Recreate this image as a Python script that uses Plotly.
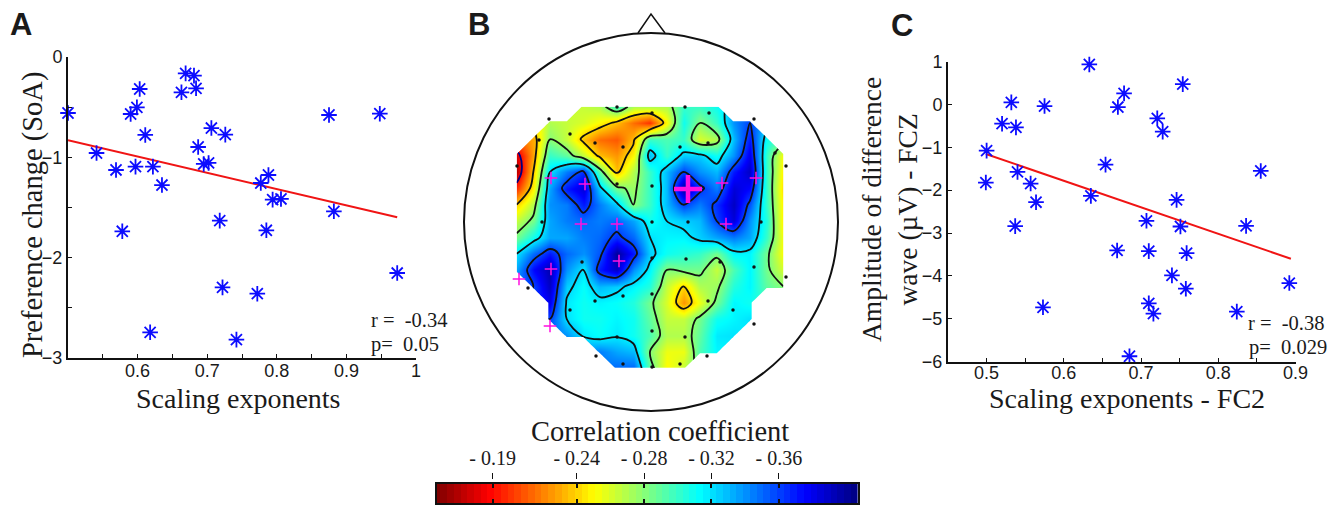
import plotly.graph_objects as go

# Panel A
a_x = [.500,.541,.569,.578,.590,.599,.603,.597,.611,.618,.622,.635,.663,.669,.681,.684,.687,.695,.702,.706,.718,.722,.726,.742,.772,.777,.785,.788,.794,.806,.875,.882,.948,.973]
a_y = [-.558,-.957,-1.126,-1.737,-.568,-.502,-.319,-1.093,-.777,-2.744,-1.093,-1.276,-.352,-.163,-.186,-.312,-.897,-1.066,-1.056,-.708,-1.631,-2.296,-.774,-2.817,-2.359,-1.256,-1.727,-1.176,-1.422,-1.415,-.578,-1.538,-.565,-2.153]
a_fit_x = [.5,.973]
a_fit_y = [-.83,-1.598]
# Panel C
c_x = [.633,.754,.678,.532,.575,.670,.520,.538,.721,.728,.500,.654,.855,.540,.499,.557,.564,.635,.746,.707,.537,.751,.836,.669,.710,.759,.740,.758,.892,.573,.710,.716,.824,.685]
c_y = [.931,.473,.256,.047,-.039,-.062,-.450,-.535,-.326,-.636,-1.078,-1.404,-1.552,-1.575,-1.823,-1.846,-2.281,-2.133,-2.226,-2.715,-2.839,-2.847,-2.832,-3.406,-3.421,-3.468,-3.988,-4.298,-4.166,-4.732,-4.639,-4.880,-4.833,-5.873]
c_fit_x = [.499,.894]
c_fit_y = [-1.156,-3.6]

# Panel B: correlation magnitude on the scalp, read on a regular grid (page pixels)
grid_x = [516.7,533.3,550,566.7,583.3,600,616.7,633.3,650,666.7,683.3,700,716.7,733.3,750,766.7,783.3]
grid_y = [106.7,123,139.3,155.7,172,188.3,204.7,221,237.3,253.7,270,286.3,302.7,319,335.3,351.7,368]
_ = None
grid_z = [
 [_,_,_,_,.265,.27,.30,.27,.27,.27,.30,.30,.31,_,_,_,_],
 [_,_,.27,.265,.26,.25,.235,.215,.20,.25,.31,.28,.30,.34,.36,_,_],
 [_,.23,.28,.265,.235,.215,.21,.235,.30,.295,.30,.26,.27,.33,.37,.31,_],
 [.18,.23,.30,.29,.265,.235,.225,.25,.33,.30,.325,.325,.31,.34,.38,.30,.25],
 [.17,.24,.32,.345,.365,.29,.235,.27,.30,.33,.36,.34,.33,.37,.39,.30,.245],
 [.20,.25,.335,.37,.385,.325,.285,.275,.30,.33,.40,.365,.345,.385,.375,.30,.24],
 [.24,.27,.34,.345,.37,.345,.325,.28,.30,.33,.36,.345,.365,.39,.355,.30,.245],
 [.265,.285,.335,.345,.35,.345,.35,.335,.31,.32,.325,.33,.36,.385,.34,.305,.245],
 [.285,.31,.335,.335,.345,.35,.365,.35,.32,.315,.315,.325,.335,.345,.335,.30,.25],
 [.32,.35,.37,.35,.34,.355,.40,.37,.325,.31,.305,.30,.285,.315,.315,.285,.25],
 [.335,.375,.395,.34,.318,.37,.39,.34,.315,.28,.285,.285,.265,.295,.315,.285,.26],
 [_,.36,.39,.325,.312,.33,.325,.315,.305,.265,.24,.27,.275,.305,.315,.29,.28],
 [_,_,.38,.318,.31,.315,.312,.305,.285,.26,.225,.255,.285,.315,.31,_,_],
 [_,_,.36,.32,.31,.31,.315,.31,.29,.265,.265,.285,.31,.315,.32,_,_],
 [_,_,_,.34,.318,.312,.318,.31,.295,.27,.27,.29,.318,.32,_,_,_],
 [_,_,_,_,_,.345,.335,.33,.28,.255,.255,.295,.315,_,_,_,_],
 [_,_,_,_,_,_,.35,.35,.29,.25,.265,_,_,_,_,_,_],
]
dots_x = [617,652,685,709,549,754,570,539,595,623,680,708,775,517,786,617,652,542,652,688,761,652,686,720,754,582,528,786,595,623,652,708,733,570,652,754,617,685,596,707,623,652,680]
dots_y = [107,113,107,113,119,119,134,140,143,147,147,143,153,166,166,184,186,222,222,222,222,258,259,262,267,262,288,277,301,296,294,301,310,310,331,324,337,337,356,356,364,367,364]
plus_x = [551,585,722,756,581,617,726,619,551,519,550]
plus_y = [178,184,183,178,224,224,224,261,269,279,326]
big_plus_x = [688]
big_plus_y = [189]

# Colour bar
bar_ticks = [.19,.24,.28,.32,.36]
bar_labels = ["- 0.19","- 0.24","- 0.28","- 0.32","- 0.36"]
bar_min, bar_max = .157, .407
bar_levels = [.157,.161,.165,.169,.173,.177,.181,.185,.189,.193,.197,.201,.205,.209,.213,.217,.221,.225,.229,.233,.237,.241,.245,.249,.253,.257,.261,.265,.269,.273,.277,.281,.285,.289,.293,.297,.301,.305,.309,.313,.317,.321,.325,.329,.333,.337,.341,.345,.349,.353,.357,.361,.365,.369,.373,.377,.381,.385,.389,.393,.397,.401,.405]
jet_r = [[0,"#7f0000"],[.125,"#ff0000"],[.375,"#ffff00"],[.625,"#00ffff"],[.875,"#0000ff"],[1,"#00007f"]]

SERIF = "Liberation Serif"
SANS = "Liberation Sans"
BLUE = "#0c0cff"
INK = "#1a1a1a"
W, H = 1343, 505
dx = lambda a, b: [a / W, b / W]
dy = lambda t, b: [1 - b / H, 1 - t / H]

fig = go.Figure()

fig.add_trace(go.Contour(
    x=grid_x, y=grid_y, z=grid_z, xaxis="x3", yaxis="y3", showscale=False,
    colorscale=jet_r, zmin=bar_min, zmax=bar_max, connectgaps=False,
    contours=dict(coloring="heatmap", start=.24, end=.36, size=.04, showlabels=False),
    line=dict(color="#111111", width=1.8), hoverinfo="skip",
))
fig.add_trace(go.Contour(
    x=grid_x, y=grid_y, z=grid_z, xaxis="x3", yaxis="y3", showscale=False,
    colorscale=jet_r, zmin=bar_min, zmax=bar_max, connectgaps=False,
    contours=dict(coloring="lines", start=.19, end=.19, size=.04),
    line=dict(color="#111111", width=1.8), hoverinfo="skip",
))
fig.add_trace(go.Scatter(x=dots_x, y=dots_y, xaxis="x3", yaxis="y3", mode="markers",
                         marker=dict(size=3.5, color="#111111"), hoverinfo="skip"))
fig.add_trace(go.Scatter(x=plus_x, y=plus_y, xaxis="x3", yaxis="y3", mode="markers",
                         marker=dict(symbol="cross-thin", size=9, color="#ff10e0", line=dict(color="#ff10e0", width=1.5)), hoverinfo="skip"))
fig.add_trace(go.Scatter(x=big_plus_x, y=big_plus_y, xaxis="x3", yaxis="y3", mode="markers",
                         marker=dict(symbol="cross-thin", size=20, color="#ff10e0", line=dict(color="#ff10e0", width=4.5)), hoverinfo="skip"))

# colour bar
fig.add_trace(go.Heatmap(x=bar_levels, y=[0], z=[bar_levels], xaxis="x4", yaxis="y4", showscale=False,
                         colorscale=jet_r, zmin=bar_min, zmax=bar_max, hoverinfo="skip"))
fig.add_trace(go.Scatter(x=bar_ticks, y=[0]*5, xaxis="x5", yaxis="y5", mode="none", hoverinfo="skip"))

def panel(x, y, fx, fy, xa, ya):
    fig.add_trace(go.Scatter(x=fx, y=fy, xaxis=xa, yaxis=ya, mode="lines",
                             line=dict(color="#f01414", width=2), hoverinfo="skip"))
    fig.add_trace(go.Scatter(x=x, y=y, xaxis=xa, yaxis=ya, mode="markers", cliponaxis=False,
                             marker=dict(symbol="asterisk-open", size=13, color=BLUE, line=dict(color=BLUE, width=1.8)),
                             hoverinfo="skip"))
panel(a_x, a_y, a_fit_x, a_fit_y, "x", "y")
panel(c_x, c_y, c_fit_x, c_fit_y, "x2", "y2")

axis = dict(showgrid=False, zeroline=False, showline=True, linecolor="#111111", linewidth=2,
            ticks="inside", ticklen=4, tickwidth=1, tickcolor="#111111",
            tickfont=dict(family=SANS, size=18, color=INK), tickmode="array", automargin=False)
annos = [
    dict(x=21, y=24, text="<b>A</b>", size=31, fam=SANS),
    dict(x=479, y=24, text="<b>B</b>", size=31, fam=SANS),
    dict(x=902, y=25, text="<b>C</b>", size=31, fam=SANS),
    dict(x=238, y=398, text="Scaling exponents", size=28, fam=SERIF),
    dict(x=1127, y=398, text="Scaling exponents - FC2", size=28, fam=SERIF),
    dict(x=660, y=431, text="Correlation coefficient", size=28.5, fam=SERIF),
    dict(x=33, y=215, text="Preference change (SoA)", size=28.5, fam=SERIF, rot=-90),
    dict(x=889, y=210, text="Amplitude of difference<br>wave (µV) - FCZ", size=27.5, fam=SERIF, rot=-90),
    dict(x=409, y=320, text="r =  -0.34", size=20.5, fam=SERIF),
    dict(x=405, y=344, text="p=  0.05", size=20.5, fam=SERIF),
    dict(x=1286, y=323, text="r =  -0.38", size=20.5, fam=SERIF),
    dict(x=1288, y=347, text="p=  0.029", size=20.5, fam=SERIF),
]
fig.update_layout(
    template="none",
    width=W, height=H, margin=dict(l=0, r=0, t=0, b=0, autoexpand=False), paper_bgcolor="white", plot_bgcolor="rgba(0,0,0,0)",
    showlegend=False,
    xaxis=dict(axis, domain=dx(68, 416), range=[.5, 1], anchor="y", ticklabelstandoff=-5,
               tickvals=[.5,.55,.6,.65,.7,.75,.8,.85,.9,.95,1],
               ticktext=["","","0.6","","0.7","","0.8","","0.9","","1"]),
    yaxis=dict(axis, domain=dy(57, 358), range=[-3, 0], anchor="x",
               tickvals=[-3,-2.5,-2,-1.5,-1,-.5,0],
               ticktext=["−3","","−2","","−1","","0"]),
    xaxis2=dict(axis, domain=dx(948, 1295.5), range=[.45, .9], anchor="y2", ticklabelstandoff=-6,
                tickvals=[.5,.55,.6,.65,.7,.75,.8,.85,.9],
                ticktext=["0.5","","0.6","","0.7","","0.8","","0.9"]),
    yaxis2=dict(axis, domain=dy(61.5, 361.7), range=[-6, 1], anchor="x2",
                tickvals=[-6,-5,-4,-3,-2,-1,0,1],
                ticktext=["−6","−5","−4","−3","−2","−1","0","1"]),
    xaxis3=dict(domain=[0, 1], range=[0, W], visible=False, anchor="y3", automargin=False),
    yaxis3=dict(domain=[0, 1], range=[H, 0], visible=False, anchor="x3", automargin=False),
    xaxis4=dict(domain=dx(437, 858), range=[bar_min, bar_max], anchor="y4", side="bottom", automargin=False,
                showgrid=False, zeroline=False, showline=True, mirror="ticks", linecolor="#111111", linewidth=2,
                ticks="inside", ticklen=4, tickwidth=2, tickcolor="#111111", tickmode="array",
                tickvals=bar_ticks, showticklabels=False),
    yaxis4=dict(domain=dy(484, 503), range=[-.5, .5], anchor="x4", showticklabels=False, ticks="", automargin=False,
                showgrid=False, zeroline=False, showline=True, mirror=True, linecolor="#111111", linewidth=2),
    xaxis5=dict(domain=dx(437, 858), range=[bar_min, bar_max], anchor="y5", side="top", automargin=False,
                showgrid=False, zeroline=False, showline=False,
                ticks="outside", ticklen=6, tickwidth=1, tickcolor="#111111", tickmode="array",
                tickvals=bar_ticks, ticktext=bar_labels, tickangle=0,
                tickfont=dict(family=SERIF, size=20, color=INK)),
    yaxis5=dict(domain=dy(480, 481), range=[0, 1], anchor="x5", visible=False, automargin=False),
    shapes=[
        dict(type="circle", xref="x3", yref="y3", x0=464, x1=838, y0=33, y1=411,
             line=dict(color="#111111", width=2), layer="below"),
        dict(type="path", xref="x3", yref="y3", path="M 638 33 L 651 14 L 665 33",
             line=dict(color="#111111", width=1.5)),
    ],
    annotations=[dict(xref="x3", yref="y3", x=a["x"], y=a["y"], text=a["text"], showarrow=False,
                      textangle=a.get("rot", 0), xanchor="center", yanchor="middle",
                      font=dict(family=a["fam"], size=a["size"], color=INK)) for a in annos],
)
fig.write_html("out.html", config=dict(displayModeBar=False), post_script="document.body.style.margin='0';")
